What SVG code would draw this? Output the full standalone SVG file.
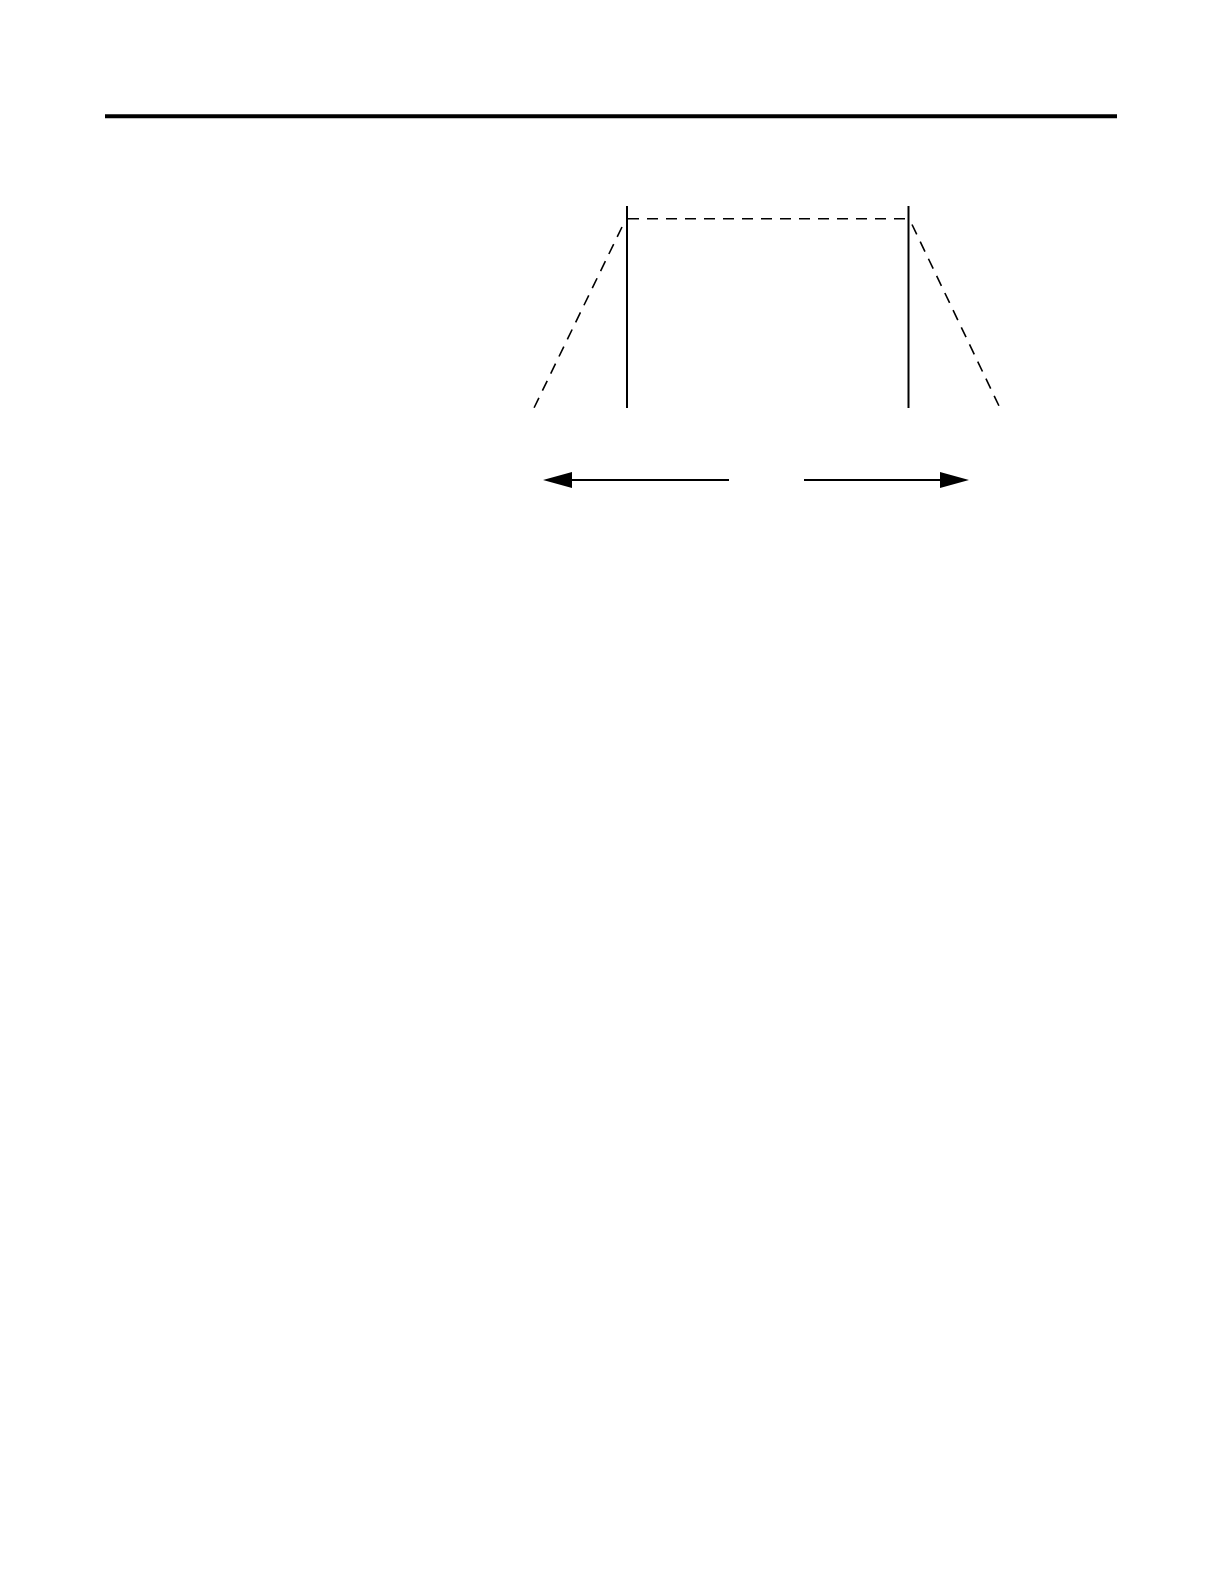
<svg xmlns="http://www.w3.org/2000/svg" width="1224" height="1584" viewBox="0 0 1224 1584">
<style>
.solid{stroke:#000;stroke-width:2;fill:none}
.dash{stroke:#000;stroke-width:1.6;fill:none;stroke-dasharray:11,8}
.arrow{stroke:#000;stroke-width:2.2;fill:none}
.head{fill:#000;stroke:none}
</style>
<rect x="0" y="0" width="1224" height="1584" fill="#fff"/>
<line x1="105" y1="116.3" x2="1117" y2="116.3" stroke="#000" stroke-width="4"/>
<g id="left-post"><line class="solid" x1="627" y1="206" x2="627" y2="408"/></g>
<g id="right-post"><line class="solid" x1="908.5" y1="206" x2="908.5" y2="408"/></g>
<g id="connectors">
<line class="dash" x1="628" y1="218.7" x2="908" y2="218.7" stroke-dasharray="10,11"/>
<line class="dash" x1="622" y1="227" x2="533" y2="410"/>
<line class="dash" x1="912" y1="224.5" x2="1000" y2="408"/>
<line class="arrow" x1="729" y1="480" x2="566" y2="480"/>
<path class="head" d="M543,480 L572,472 L572,488 Z"/>
<line class="arrow" x1="804" y1="480" x2="945" y2="480"/>
<path class="head" d="M969,480 L940,472 L940,488 Z"/>
</g>
</svg>
